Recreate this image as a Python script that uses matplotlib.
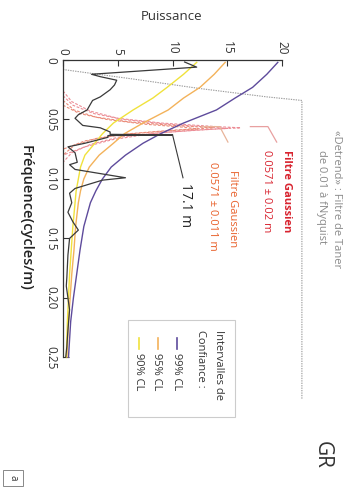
import matplotlib
matplotlib.use("Agg")
import matplotlib.pyplot as plt
from matplotlib.patches import Rectangle
from matplotlib.lines import Line2D

plt.rcParams['font.family'] = ['Open Sans', 'DejaVu Sans']

# spectre (frequence cycles/m, puissance)
spec_f = [0.0017, 0.006, 0.012, 0.014, 0.017, 0.021, 0.025, 0.031, 0.034, 0.042, 0.046,
          0.049, 0.055, 0.057, 0.0605, 0.0625, 0.063, 0.0635, 0.065, 0.070, 0.073, 0.078,
          0.086, 0.088, 0.092, 0.099, 0.101, 0.108, 0.112, 0.120, 0.128, 0.136, 0.143,
          0.150, 0.164, 0.183, 0.190, 0.210, 0.227, 0.241, 0.250]
spec_p = [11.1, 12.2, 2.6, 3.4, 4.9, 4.7, 4.3, 3.4, 2.7, 2.2, 1.4,
          1.1, 1.8, 3.4, 4.3, 4.3, 10.0, 4.1, 4.1, 2.0, 0.45, 1.1,
          1.3, 0.6, 1.1, 5.7, 3.6, 1.1, 0.6, 0.8, 0.45, 0.9, 1.4,
          0.6, 0.45, 0.35, 0.3, 0.6, 0.45, 0.35, 0.25]

# intervalles de confiance
ci_f = [0.002, 0.012, 0.023, 0.032, 0.042, 0.053, 0.062, 0.070, 0.080, 0.090, 0.100,
        0.110, 0.120, 0.140, 0.160, 0.180, 0.200, 0.220, 0.250]
ci99 = [19.6, 18.6, 17.3, 15.7, 14.0, 11.0, 8.9, 7.3, 5.7, 4.4, 3.6,
        3.0, 2.5, 1.9, 1.55, 1.25, 0.95, 0.7, 0.5]
ci95 = [14.8, 13.8, 12.5, 11.0, 9.6, 7.3, 5.6, 4.6, 3.3, 2.4, 1.9,
        1.6, 1.4, 1.15, 1.0, 0.8, 0.65, 0.5, 0.35]
ci90 = [12.2, 11.0, 9.5, 8.2, 6.4, 4.6, 3.6, 2.9, 2.0, 1.6, 1.4,
        1.2, 1.1, 0.9, 0.75, 0.6, 0.5, 0.4, 0.3]

# filtre de Taner
taner_f = [0.008, 0.016, 0.024, 0.031, 0.034, 0.285]
taner_p = [0.0, 6.4, 12.5, 18.6, 21.8, 21.8]

# filtres gaussiens (deux traits chacun)
g1_f = [0.026, 0.035, 0.043, 0.049, 0.053, 0.056, 0.057, 0.058, 0.061, 0.065, 0.071, 0.078, 0.086]
g1_p = [0.0, 0.8, 2.5, 5.0, 9.0, 14.0, 16.2, 14.0, 9.0, 5.0, 2.5, 0.8, 0.0]
g1b_f = [0.030, 0.038, 0.045, 0.050, 0.054, 0.0565, 0.0575, 0.059, 0.062, 0.067, 0.073, 0.080]
g1b_p = [0.0, 0.9, 2.8, 5.5, 9.5, 13.5, 15.0, 12.0, 8.0, 4.5, 2.0, 0.0]
g2_f = [0.034, 0.042, 0.048, 0.052, 0.055, 0.057, 0.059, 0.062, 0.066, 0.072, 0.080]
g2_p = [0.0, 1.0, 3.0, 6.0, 10.0, 13.7, 10.0, 6.0, 3.0, 1.0, 0.0]
g2b_f = [0.038, 0.045, 0.050, 0.054, 0.0565, 0.058, 0.060, 0.063, 0.068, 0.075]
g2b_p = [0.0, 1.5, 4.0, 7.5, 11.0, 12.3, 9.0, 5.0, 2.0, 0.0]

p_ticks = [0, 5, 10, 15, 20]
f_ticks = [0, 0.05, 0.10, 0.15, 0.20, 0.25]
f_labels = ['0', '0.05', '0.10', '0.15', '0.20', '0.25']

W, H = 356, 493


def fx(x, y):
    return x / W, 1 - y / H


fig = plt.figure(figsize=(W / 100, H / 100), dpi=100)
ax = fig.add_axes([63 / W, 1 - 399 / H, 263 / W, 339 / H])
ax.set_xlim(0, 24)
ax.set_ylim(0.285, 0)

ax.plot(taner_p, taner_f, color='#9a9a9a', lw=0.8, ls=(0, (1.2, 1.0)), clip_on=False)
ax.plot(g1_p, g1_f, color='#ec8c95', lw=0.8, ls=(0, (2.5, 1.5)))
ax.plot(g1b_p, g1b_f, color='#ec8c95', lw=0.8, ls=(0, (2.5, 1.5)))
ax.plot(g2_p, g2_f, color='#ea8a78', lw=0.8, ls=(0, (2.5, 1.5)))
ax.plot(g2b_p, g2b_f, color='#ea8a78', lw=0.8, ls=(0, (2.5, 1.5)))
ax.plot(ci99, ci_f, color='#5e4b9c', lw=1.0)
ax.plot(ci95, ci_f, color='#f3b25a', lw=1.0)
ax.plot(ci90, ci_f, color='#f0e23c', lw=1.0)
ax.plot(spec_p, spec_f, color='#3a3a3a', lw=0.9)

# annotations
ax.plot([10.0, 10.95], [0.063, 0.099], color='#3a3a3a', lw=0.8)
ax.plot([17.1, 18.7, 19.5], [0.056, 0.056, 0.069], color='#e8a0a0', lw=0.9)
ax.plot([12.7, 14.3, 15.05], [0.056, 0.056, 0.069], color='#e8b49a', lw=0.9)

for s in ['right', 'bottom']:
    ax.spines[s].set_visible(False)
ax.spines['top'].set_bounds(0, 20)
ax.spines['left'].set_bounds(0, 0.25)
for s in ['top', 'left']:
    ax.spines[s].set_linewidth(0.9)
    ax.spines[s].set_color('#333333')
ax.xaxis.tick_top()
ax.set_xticks(p_ticks)
ax.set_xticklabels([str(t) for t in p_ticks], rotation=-90, fontsize=8.5, va='bottom')
ax.set_yticks(f_ticks)
ax.set_yticklabels(f_labels, rotation=-90, fontsize=8.5, va='center', ha='right')
ax.tick_params(direction='in', length=4, width=0.8, colors='#333333', pad=4)

# textes
fig.text(*fx(172, 16), 'Puissance', fontsize=9.5, ha='center', va='center', color='#333333')
fig.text(*fx(26, 218), 'Fréquence(cycles/m)', fontsize=10.5, rotation=-90, ha='center',
         va='center', color='#222222', fontweight='semibold')
fig.text(*fx(337, 130), '«Detrend» : Filtre de Taner', fontsize=8, rotation=-90, ha='center',
         va='top', color='#8a8a8a')
fig.text(*fx(322, 150), 'de 0.01 à fNyquist', fontsize=8, rotation=-90, ha='center',
         va='top', color='#8a8a8a')
fig.text(*fx(287, 150), 'Filtre Gaussien', fontsize=8, rotation=-90, ha='center', va='top',
         color='#d8232f', fontweight='bold')
fig.text(*fx(266, 150), '0.0571 ± 0.02 m', fontsize=8, rotation=-90, ha='center', va='top',
         color='#d8232f')
fig.text(*fx(233, 170), 'Filtre Gaussien', fontsize=8, rotation=-90, ha='center', va='top',
         color='#e8602a')
fig.text(*fx(213, 162), '0.0571 ± 0.011 m', fontsize=8, rotation=-90, ha='center', va='top',
         color='#e8602a')
fig.text(*fx(185, 183), '17.1 m', fontsize=10, rotation=-90, ha='center', va='top', color='#222222')

# legende
fig.patches.append(Rectangle(fx(128, 417), 107 / W, 97 / H, transform=fig.transFigure,
                             fill=False, ec='#cccccc', lw=0.8))
fig.text(*fx(219, 330), 'Intervalles de', fontsize=8, rotation=-90, ha='center', va='top',
         color='#333333')
fig.text(*fx(201, 330), 'Confiance :', fontsize=8, rotation=-90, ha='center', va='top',
         color='#333333')
leg_labels = ['99% CL', '95% CL', '90% CL']
leg_colors = ['#5e4b9c', '#f3b25a', '#f0e23c']
for i, (lab, col) in enumerate(zip(leg_labels, leg_colors)):
    x = 177 - i * 19
    fig.lines.append(Line2D([x / W, x / W], [1 - 338 / H, 1 - 349 / H], transform=fig.transFigure,
                            color=col, lw=1.2))
    fig.text(*fx(x - 1, 353), lab, fontsize=8, rotation=-90, ha='center', va='top', color='#333333')

fig.text(*fx(322, 455), 'GR', fontsize=15, rotation=-90, ha='center', va='center', color='#333333')
fig.text(*fx(13, 478), 'a', fontsize=7, rotation=-90, ha='center', va='center', color='#333333',
         bbox=dict(boxstyle='square,pad=0.5', fc='white', ec='#888888', lw=0.7))

fig.savefig('out.png', dpi=100)
